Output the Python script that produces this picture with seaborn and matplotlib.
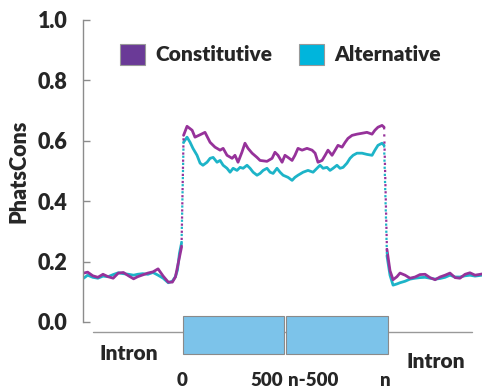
import matplotlib
matplotlib.use("Agg")
import matplotlib.pyplot as plt
import seaborn as sns
import pandas as pd
from matplotlib.patches import Patch, Rectangle

# ---------------- data ----------------
pos_left = [-485, -465, -440, -415, -390, -365, -340, -315, -290, -265, -240, -220,
            -195, -170, -145, -120, -95, -70, -50, -35, -25, -15, -5]
const_left = [0.162, 0.165, 0.153, 0.148, 0.158, 0.150, 0.145, 0.162, 0.164, 0.153, 0.143, 0.150,
              0.156, 0.162, 0.166, 0.176, 0.152, 0.132, 0.132, 0.149, 0.182, 0.215, 0.248]
alt_left = [0.145, 0.155, 0.148, 0.145, 0.152, 0.150, 0.157, 0.163, 0.160, 0.158, 0.155, 0.158,
            0.160, 0.158, 0.164, 0.155, 0.145, 0.130, 0.135, 0.150, 0.172, 0.228, 0.261]

const_exon_pos = [5, 22, 47, 61, 86, 110, 135, 159, 184, 199, 218, 243, 257, 272, 291, 306, 321,
                  341, 365, 380, 414, 439, 453, 468, 488, 502, 517, 537, 551, 566, 586, 610, 635,
                  650, 664, 684, 699, 713, 733, 748, 762, 782, 797, 811, 831, 855, 880, 904, 929,
                  943, 958, 978, 988]
const_exon = [0.618, 0.648, 0.635, 0.612, 0.620, 0.628, 0.595, 0.579, 0.569, 0.575, 0.552, 0.542,
              0.552, 0.529, 0.562, 0.592, 0.575, 0.559, 0.545, 0.535, 0.532, 0.542, 0.562, 0.552,
              0.529, 0.552, 0.545, 0.535, 0.552, 0.575, 0.569, 0.575, 0.569, 0.559, 0.529, 0.535,
              0.552, 0.569, 0.552, 0.569, 0.585, 0.579, 0.595, 0.608, 0.618, 0.622, 0.625, 0.628,
              0.622, 0.635, 0.645, 0.651, 0.645]

alt_exon_pos = [5, 22, 37, 51, 71, 86, 100, 120, 135, 150, 169, 184, 199, 218, 233, 248, 267, 282,
                297, 316, 331, 346, 365, 380, 395, 414, 429, 444, 463, 478, 493, 517, 537, 551,
                566, 591, 615, 640, 659, 674, 689, 708, 723, 738, 757, 772, 787, 806, 821, 836,
                855, 880, 904, 929, 943, 958, 978, 988]
alt_exon = [0.595, 0.612, 0.595, 0.575, 0.552, 0.526, 0.519, 0.529, 0.542, 0.545, 0.529, 0.535,
            0.519, 0.509, 0.496, 0.509, 0.502, 0.512, 0.509, 0.519, 0.509, 0.496, 0.486, 0.492,
            0.502, 0.509, 0.496, 0.492, 0.509, 0.496, 0.486, 0.479, 0.469, 0.479, 0.486, 0.496,
            0.502, 0.496, 0.509, 0.519, 0.509, 0.512, 0.502, 0.509, 0.519, 0.509, 0.512, 0.526,
            0.542, 0.552, 0.559, 0.559, 0.555, 0.552, 0.569, 0.585, 0.592, 0.585]

pos_right = [1002, 1017, 1032, 1051, 1066, 1091, 1115, 1140, 1164, 1189, 1213, 1238, 1262,
             1287, 1311, 1336, 1360, 1385, 1409, 1434, 1468]
const_right = [0.24, 0.17, 0.14, 0.15, 0.162, 0.155, 0.145, 0.149, 0.157, 0.158, 0.147, 0.140,
               0.149, 0.155, 0.162, 0.147, 0.145, 0.158, 0.163, 0.155, 0.159]
alt_right = [0.22, 0.155, 0.122, 0.126, 0.130, 0.135, 0.142, 0.145, 0.147, 0.148, 0.145, 0.142,
             0.144, 0.148, 0.155, 0.149, 0.149, 0.153, 0.155, 0.152, 0.155]

series_names = ["Constitutive", "Alternative"]
exon_bounds = [0, 500, 1000]
exon_tick_labels = ["0", "500", "n-500", "n"]
intron_label = "Intron"
y_ticks = [0.0, 0.2, 0.4, 0.6, 0.8, 1.0]

# ---------------- styles ----------------
line_colors = {"Constitutive": "#96329A", "Alternative": "#1DB4C8"}
legend_colors = {"Constitutive": "#6A3A97", "Alternative": "#00B5DC"}
box_color = "#7CC3EA"
FONT = ["Lato", "DejaVu Sans"]
WEIGHT = "heavy"

sns.set_style("white")
plt.rcParams["font.family"] = FONT
plt.rcParams["font.weight"] = WEIGHT

# long table
rows = []
for region, (cp, cv, ap, av) in enumerate([
        (pos_left, const_left, pos_left, alt_left),
        (const_exon_pos, const_exon, alt_exon_pos, alt_exon),
        (pos_right, const_right, pos_right, alt_right)]):
    for p, v in zip(cp, cv):
        rows.append({"pos": p, "value": v, "series": "Constitutive", "region": region})
    for p, v in zip(ap, av):
        rows.append({"pos": p, "value": v, "series": "Alternative", "region": region})
df = pd.DataFrame(rows)

W, H = 482, 389
fig = plt.figure(figsize=(W / 100, H / 100), dpi=100)
ax = fig.add_axes([83 / W, 1 - 322 / H, 1 - 83 / W, 302 / H])

sns.lineplot(data=df, x="pos", y="value", hue="series", units="region", estimator=None,
             palette=line_colors, hue_order=["Alternative", "Constitutive"],
             linewidth=2.0, ax=ax, legend=False, sort=True)

# dotted jumps between regions
for name in series_names:
    sub = df[df.series == name]
    for r in (0, 1):
        a = sub[sub.region == r].sort_values("pos").iloc[-1]
        b = sub[sub.region == r + 1].sort_values("pos").iloc[0]
        ax.plot([a.pos, b.pos], [a.value, b.value], color=line_colors[name],
                linestyle=(0, (1, 2.2)), linewidth=1.6)

ax.set_xlim(-488, 1468)
ax.set_ylim(0, 1.0)
ax.set_yticks(y_ticks)
ax.set_yticklabels([f"{t:.1f}" for t in y_ticks], fontsize=15.5, fontweight=WEIGHT)
ax.tick_params(axis="y", direction="in", length=5, width=1, color="#8C8C8C", pad=11, left=True)
ax.set_xticks([])
ax.set_xlabel("")
ax.set_ylabel("PhatsCons", fontsize=15.5, fontweight=WEIGHT, labelpad=6)
for s in ["top", "right", "bottom"]:
    ax.spines[s].set_visible(False)
ax.spines["left"].set_color("#8C8C8C")
ax.spines["left"].set_linewidth(1)
ax.patch.set_alpha(0)

handles = [Patch(facecolor=legend_colors[n], edgecolor="#999999", linewidth=0.8, label=n)
           for n in series_names]
leg = ax.legend(handles=handles, ncol=2, frameon=False, loc="upper left",
                bbox_to_anchor=(101 / W, 1 - 25 / H), bbox_transform=fig.transFigure,
                prop={"family": FONT, "weight": WEIGHT, "size": 15},
                handlelength=1.2, handleheight=1.2, handletextpad=0.5, columnspacing=1.3)

# ---------------- exon diagram ----------------
ax2 = fig.add_axes([83 / W, 0, 1 - 83 / W, 1 - 300 / H], sharex=ax)
ax2.set_ylim(389, 300)
ax2.axis("off")
ax2.patch.set_alpha(0)
ax2.plot([-439, 1419], [332, 332], color="#999999", linewidth=1, zorder=1)
gap = 5
ax2.add_patch(Rectangle((exon_bounds[0], 316), exon_bounds[1] - exon_bounds[0] - gap, 38,
                        facecolor=box_color, edgecolor="#8A8A8A", linewidth=0.8, zorder=2))
ax2.add_patch(Rectangle((exon_bounds[1] + gap, 316), exon_bounds[2] - exon_bounds[1], 38,
                        facecolor=box_color, edgecolor="#8A8A8A", linewidth=0.8, zorder=2))
tk = dict(fontsize=13.5, fontweight=WEIGHT, va="center")
ax2.text(exon_bounds[0], 381, exon_tick_labels[0], ha="center", **tk)
ax2.text(exon_bounds[1] - 5, 381, exon_tick_labels[1], ha="right", **tk)
ax2.text(exon_bounds[1] + 15, 381, exon_tick_labels[2], ha="left", **tk)
ax2.text(exon_bounds[2] - 5, 381, exon_tick_labels[3], ha="center", **tk)
ax2.text(-262, 354, intron_label, ha="center", va="center", fontsize=15, fontweight=WEIGHT)
ax2.text(1243, 361, intron_label, ha="center", va="center", fontsize=15, fontweight=WEIGHT)
ax2.set_zorder(3)

fig.savefig("out.png", dpi=100)
